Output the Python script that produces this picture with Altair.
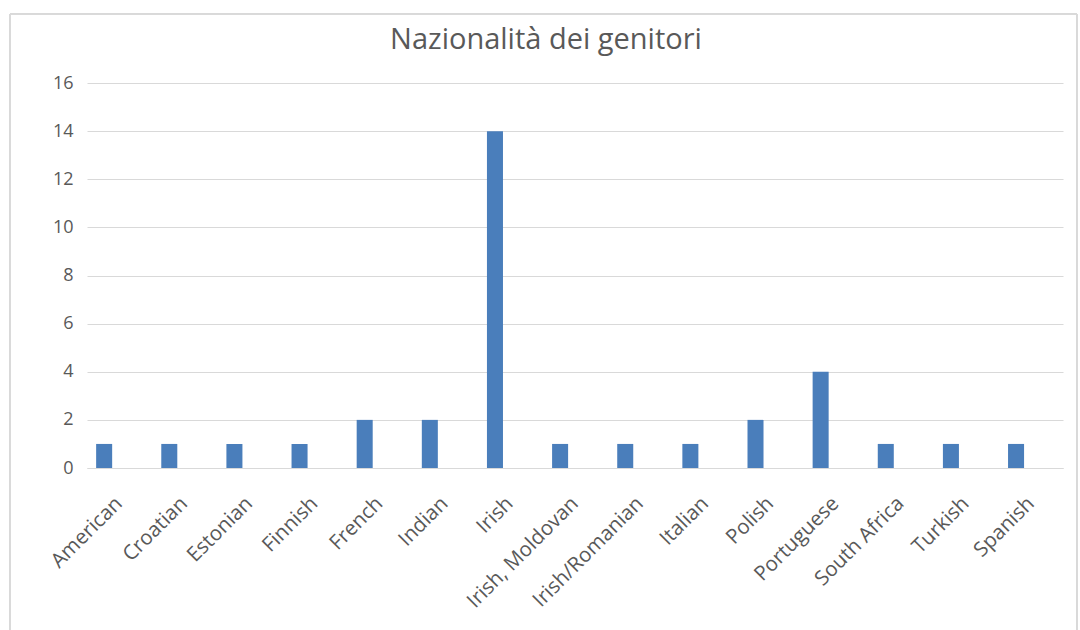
import altair as alt
import pandas as pd

categories = ["American", "Croatian", "Estonian", "Finnish", "French", "Indian", "Irish",
              "Irish, Moldovan", "Irish/Romanian", "Italian", "Polish", "Portuguese",
              "South Africa", "Turkish", "Spanish"]
values = [1, 1, 1, 1, 2, 2, 14, 1, 1, 1, 2, 4, 1, 1, 1]
y_ticks = [0, 2, 4, 6, 8, 10, 12, 14, 16]
title_text = ["Nazionalità dei genitori"]

df = pd.DataFrame({"cat": categories, "val": values})

FONT = "Open Sans"
GRAY = "#595959"

bars = alt.Chart(df).mark_bar(color="#4a7ebb").encode(
    x=alt.X("cat:N", sort=categories,
            scale=alt.Scale(paddingInner=0.754, paddingOuter=0.369, align=0.19),
            axis=alt.Axis(title=None, labelAngle=-45, labelAlign="right", labelBaseline="middle",
                          labelFontSize=20.5, labelColor=GRAY, labelFont=FONT, ticks=False,
                          domainColor="#d9d9d9", labelPadding=32, labelOffset=15,
                          labelOverlap=False)),
    y=alt.Y("val:Q", scale=alt.Scale(domain=[0, 16]),
            axis=alt.Axis(title=None, values=y_ticks, grid=True, gridColor="#d9d9d9",
                          domain=False, ticks=False, labelFontSize=18, labelColor=GRAY,
                          labelFont=FONT, labelPadding=14)),
)

border = alt.Chart(df).mark_rect(fill=None, stroke="#d9d9d9", strokeWidth=1).encode(
    x=alt.value(-77), x2=alt.value(990), y=alt.value(-69), y2=alt.value(560)
)

title = alt.Chart(pd.DataFrame({"t": title_text})).mark_text(
    font=FONT, fontSize=29, color=GRAY, align="center", baseline="alphabetic"
).encode(text="t:N", x=alt.value(459), y=alt.value(-34))

chart = alt.layer(border, bars, title).properties(
    width=976, height=385,
    padding={"left": 87, "top": 83, "right": 17, "bottom": 162},
    autosize=alt.AutoSizeParams(type="none"),
).configure_view(stroke=None)

chart.save("out.html", embed_options={"renderer": "svg", "actions": False})
